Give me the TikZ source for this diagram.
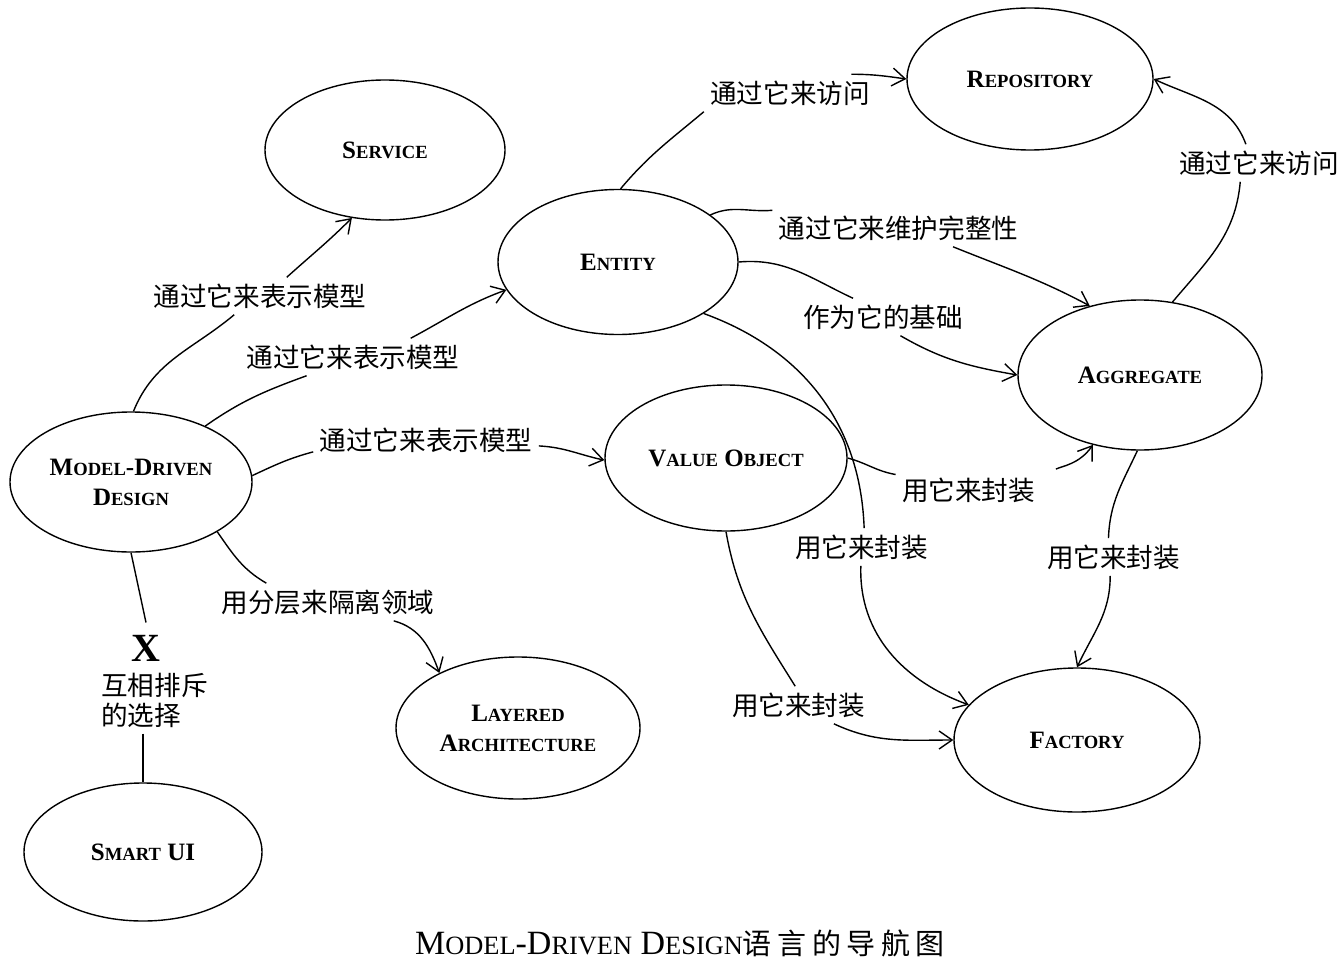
\documentclass[tikz,border=0pt]{standalone}
\usepackage{fontspec}
\setmainfont{Liberation Serif}
\newfontfamily\cjk{Noto Sans CJK SC}
\usetikzlibrary{shapes.geometric,arrows.meta}
% small capitals built from two sizes of upper case
\newcommand\smc[1]{{\fontsize{9.3}{15}\selectfont #1}}
\newcommand\capsm[1]{{\fontsize{13.2}{18}\selectfont #1}}
\newcommand\cjkgap{\hspace{2.8pt}}

\begin{document}
\begin{tikzpicture}[x=0.5pt,y=0.5pt,
  concept/.style={ellipse, draw, line width=0.7pt, inner sep=0pt, align=center,
    font=\bfseries\fontsize{12.5}{15}\selectfont},
  lbl/.style={inner sep=3pt, font=\cjk\fontsize{13.3}{15}\selectfont},
  link/.style={line width=0.7pt},
  arr/.style={link, -{Straight Barb[length=6.5pt,width=9pt]}},
]
\useasboundingbox (0,0) rectangle (1342,966);

% concepts
\node[concept, minimum width=120pt, minimum height=70pt]   (svc)   at (385,816) {S\smc{ERVICE}};
\node[concept, minimum width=123pt, minimum height=71pt]   (repo)  at (1030,887) {R\smc{EPOSITORY}};
\node[concept, minimum width=120pt, minimum height=72.5pt] (ent)   at (618,704) {E\smc{NTITY}};
\node[concept, minimum width=122pt, minimum height=75pt]   (agg)   at (1140,591) {A\smc{GGREGATE}};
\node[concept, minimum width=121pt, minimum height=70pt]   (mdd)   at (131,484) {M\smc{ODEL}-D\smc{RIVEN}\\D\smc{ESIGN}};
\node[concept, minimum width=121pt, minimum height=73pt]   (vo)    at (726,508) {V\smc{ALUE} O\smc{BJECT}};
\node[concept, minimum width=122pt, minimum height=71pt]   (lay)   at (518,238) {L\smc{AYERED}\\A\smc{RCHITECTURE}};
\node[concept, minimum width=123pt, minimum height=72pt]   (fac)   at (1077,226) {F\smc{ACTORY}};
\node[concept, minimum width=119pt, minimum height=69pt]   (smart) at (143,114) {S\smc{MART} UI};

% relation labels
\node[lbl] (l1)  at (260,670)  {通过它来表示模型};
\node[lbl] (l2)  at (353,609)  {通过它来表示模型};
\node[lbl] (l3)  at (426,526)  {通过它来表示模型};
\node[lbl] (l4)  at (328,364)  {用分层来隔离领域};
\node[inner sep=6pt, font=\bfseries\fontsize{20}{22}\selectfont] (xm) at (146,318) {X};
\node[lbl, align=left] (l5) at (154.5,266) {互相排斥\\的选择};
\node[lbl] (l6)  at (790,873)  {通过它来访问};
\node[lbl] (l7)  at (898.5,738) {通过它来维护完整性};
\node[lbl] (l8)  at (883,649)  {作为它的基础};
\node[lbl] (l9)  at (968.5,476) {用它来封装};
\node[lbl] (l10) at (861.5,419) {用它来封装};
\node[lbl] (l11) at (1113.5,409) {用它来封装};
\node[lbl] (l12) at (798.5,261) {用它来封装};
\node[lbl] (l13) at (1259,803) {通过它来访问};

% Model-Driven Design relations
\draw[link] (mdd.88) to[out=68,in=220] (l1.216);
\draw[arr]  (l1.35) to[out=42,in=225] (svc.244);
\draw[link] (mdd.37) to[out=35,in=200] (l2.202);
\draw[arr]  (l2.18) to[out=28,in=200] (ent.194);
\draw[link] (mdd.3) to[out=25,in=195] (l3.186);
\draw[arr]  (l3.-3) to[out=-3,in=168] (vo.181);
\draw[link] (mdd.330) to[out=-55,in=150] (l4.163);
\draw[arr]  (l4.-16) to[out=-15,in=110] (lay.145);
\draw[link] (mdd.south) -- (xm.north);
\draw[link] (l5.south -| smart.north) -- (smart.north);

% Entity relations
\draw[link] (ent.88) to[out=50,in=220] (l6.south west);
\draw[arr]  (l6.17) to[out=0,in=172] (repo.180);
\draw[link] (ent.27) to[out=25,in=185] (l7.172);
\draw[arr]  (l7.-19) to[out=-22,in=152] (agg.126);
\draw[link] (ent.east) to[out=5,in=155] (l8.148);
\draw[arr]  (l8.-47) to[out=-30,in=170] (agg.180);
\draw[link] (ent.-31) to[out=-20,in=92] (l10.82);
\draw[arr]  (l10.-92) to[out=-92,in=160] (fac.162);

% Value Object relations
\draw[link] (vo.east) to[out=-15,in=170] (l9.168);
\draw[arr, shorten <=8pt] (l9.11) to[out=25,in=235] (agg.236);
\draw[link] (vo.south) to[out=-80,in=122] (l12.100);
\draw[arr]  (l12.-28) to[out=-25,in=180] (fac.west);

% Aggregate relations
\draw[link] (agg.268) to[out=-115,in=88] (l11.105);
\draw[arr]  (l11.-100) to[out=-90,in=65] (fac.north);
\draw[link] (agg.66) to[out=50,in=-95] (l13.225);
\draw[arr]  (l13.125) to[out=110,in=-25] (repo.east);

% caption
\node[inner sep=0pt, font=\fontsize{17}{20}\selectfont] (cap) at (680,23)
  {M\capsm{ODEL}-D\capsm{RIVEN} D\capsm{ESIGN}{\cjk\fontsize{14.5}{18}\selectfont 语\cjkgap 言\cjkgap 的\cjkgap 导\cjkgap 航\cjkgap 图}};
\end{tikzpicture}
\end{document}
